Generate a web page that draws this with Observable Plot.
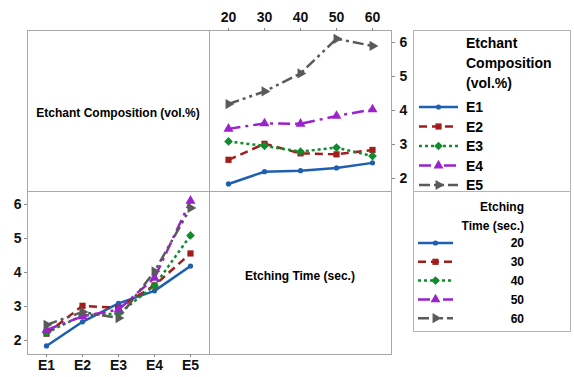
<!DOCTYPE html>
<html><head><meta charset="utf-8">
<script src="https://cdn.jsdelivr.net/npm/d3@7"></script>
<script src="https://cdn.jsdelivr.net/npm/@observablehq/plot@0.6"></script>
<style>
body{margin:0;background:#fff;}
#chart{position:relative;width:574px;height:377px;overflow:hidden;background:#fff;font-family:"Liberation Sans",Arial,sans-serif;}
#chart > svg{position:absolute;overflow:visible;}
</style></head><body><div id="chart"></div>
<script>
// ---- data ----
const etchants = ["E1", "E2", "E3", "E4", "E5"];
const times = [20, 30, 40, 50, 60];
// mean response for each etchant at etching times 20,30,40,50,60 s
const E1 = [1.84, 2.20, 2.23, 2.31, 2.46];
const E2 = [2.55, 3.02, 2.74, 2.71, 2.84];
const E3 = [3.09, 2.96, 2.79, 2.91, 2.66];
const E4 = [3.46, 3.62, 3.61, 3.84, 4.03];
const E5 = [4.19, 4.56, 5.09, 6.11, 5.90];
const yTicks = [2, 3, 4, 5, 6];
const legendTitle1 = ["Etchant", "Composition", "(vol.%)"];
const legendTitle2 = ["Etching", "Time (sec.)"];
const panelLabel1 = "Etchant Composition (vol.%)";
const panelLabel2 = "Etching Time (sec.)";

const values = [E1, E2, E3, E4, E5];
const rows = etchants.flatMap((e, i) => times.map((t, j) => ({etchant: e, ei: i, time: t, ti: j, value: values[i][j]})));

// ---- styles ----
const FONT = '"Liberation Sans", Arial, sans-serif';
const colors = ["#1f5fb0", "#a31d1d", "#0f8c2c", "#9b22cc", "#5a5a5a"];
const dashes = [null, "8,5", "3,3", "12,5,3,5", "11,4,3,4,3,4"];
const symbols = ["circle", "square", "diamond2", "triangle", "triangle"];
const d3symbols = [d3.symbolCircle, d3.symbolSquare, d3.symbolDiamond2, d3.symbolTriangle, d3.symbolTriangle];
const rotates = [0, 0, 0, 0, 90];
const radii = [2.6, 3.5, 3.9, 3.7, 3.8];
const SW = 2.5;
const FRAME = "#a8a8a8";

function seriesMarks(filterKey, xKey) {
  const out = [];
  for (let k = 0; k < 5; k++) {
    const d = rows.filter(r => r[filterKey] === k);
    out.push(Plot.line(d, {x: xKey, y: "value", stroke: colors[k], strokeWidth: SW, strokeDasharray: dashes[k] || undefined, strokeLinecap: "butt", strokeLinejoin: "round"}));
    out.push(Plot.dot(d, {x: xKey, y: "value", fill: colors[k], stroke: "none", symbol: symbols[k], r: radii[k], rotate: rotates[k]}));
  }
  return out;
}

const chart = document.getElementById("chart");

// ---- background: label panels and legends ----
const bg = d3.create("svg").attr("width", 574).attr("height", 377).style("left", "0px").style("top", "0px")
  .attr("font-family", FONT).attr("font-weight", "bold");
bg.append("rect").attr("x", 27.5).attr("y", 30.5).attr("width", 182).attr("height", 161).attr("fill", "none").attr("stroke", FRAME);
bg.append("rect").attr("x", 209.5).attr("y", 191.5).attr("width", 182).attr("height", 163).attr("fill", "none").attr("stroke", FRAME);
bg.append("text").attr("x", 118).attr("y", 116.5).attr("text-anchor", "middle").attr("font-size", 12).text(panelLabel1);
bg.append("text").attr("x", 300).attr("y", 279.5).attr("text-anchor", "middle").attr("font-size", 12).text(panelLabel2);

// legend 1
bg.append("rect").attr("x", 413.5).attr("y", 30.5).attr("width", 157).attr("height", 161).attr("fill", "none").attr("stroke", "#b4b4b4");
legendTitle1.forEach((t, i) => bg.append("text").attr("x", 466).attr("y", 48 + i * 20).attr("font-size", 14).text(t));
etchants.forEach((e, k) => {
  const y = 107 + k * 19.5;
  bg.append("line").attr("x1", 419).attr("x2", 458).attr("y1", y).attr("y2", y).attr("stroke", colors[k]).attr("stroke-width", SW).attr("stroke-dasharray", dashes[k]);
  bg.append("path").attr("d", d3.symbol(d3symbols[k], Math.PI * radii[k] ** 2)()).attr("fill", colors[k])
    .attr("transform", `translate(438.5,${y}) rotate(${rotates[k]})`);
  bg.append("text").attr("x", 466).attr("y", y + 5).attr("font-size", 14).text(e);
});
// legend 2
bg.append("rect").attr("x", 413.5).attr("y", 191.5).attr("width", 157).attr("height", 140).attr("fill", "none").attr("stroke", "#b4b4b4");
legendTitle2.forEach((t, i) => bg.append("text").attr("x", 524).attr("y", 211 + i * 19).attr("text-anchor", "end").attr("font-size", 12).text(t));
times.forEach((t, k) => {
  const y = 243 + k * 18.8;
  bg.append("line").attr("x1", 418).attr("x2", 453).attr("y1", y).attr("y2", y).attr("stroke", colors[k]).attr("stroke-width", SW).attr("stroke-dasharray", dashes[k]);
  bg.append("path").attr("d", d3.symbol(d3symbols[k], Math.PI * radii[k] ** 2)()).attr("fill", colors[k])
    .attr("transform", `translate(435.5,${y}) rotate(${rotates[k]})`);
  bg.append("text").attr("x", 524).attr("y", y + 4.3).attr("text-anchor", "end").attr("font-size", 12).text(t);
});
chart.appendChild(bg.node());

// ---- top-right panel: response vs time, one line per etchant ----
const topPlot = Plot.plot({
  width: 217, height: 193,
  marginLeft: 5, marginRight: 30, marginTop: 30, marginBottom: 2,
  x: {domain: [20, 60], inset: 19, label: null},
  y: {domain: [1.618, 6.353], label: null},
  style: {background: "transparent", fontFamily: FONT, overflow: "visible"},
  marks: [
    Plot.frame({stroke: FRAME}),
    Plot.axisX({anchor: "top", ticks: times, tickSize: 3, tickPadding: 6, fontSize: 14, fontWeight: "bold", stroke: "#888", fill: "#111", tickFormat: d => d, label: null}),
    Plot.axisY({anchor: "right", ticks: yTicks, tickSize: 3, tickPadding: 5, fontSize: 14, fontWeight: "bold", stroke: "#888", fill: "#111", tickFormat: d => d, label: null}),
    ...seriesMarks("ei", "time")
  ]
});
topPlot.style.left = "204px"; topPlot.style.top = "0px";
chart.appendChild(topPlot);

// ---- bottom-left panel: response vs etchant, one line per time ----
const botPlot = Plot.plot({
  width: 212, height: 188,
  marginLeft: 27, marginRight: 3, marginTop: 2, marginBottom: 23,
  x: {type: "point", domain: etchants, inset: 19, padding: 0, label: null},
  y: {domain: [1.588, 6.382], label: null},
  style: {background: "transparent", fontFamily: FONT, overflow: "visible"},
  marks: [
    Plot.frame({stroke: FRAME}),
    Plot.axisX({anchor: "bottom", tickSize: 3, tickPadding: 3, fontSize: 14, fontWeight: "bold", stroke: "#888", fill: "#111", label: null}),
    Plot.axisY({anchor: "left", ticks: yTicks, tickSize: 3, tickPadding: 3, fontSize: 14, fontWeight: "bold", stroke: "#888", fill: "#111", tickFormat: d => d, label: null}),
    ...seriesMarks("ti", "etchant")
  ]
});
botPlot.style.left = "0px"; botPlot.style.top = "189px";
chart.appendChild(botPlot);
</script></body></html>
